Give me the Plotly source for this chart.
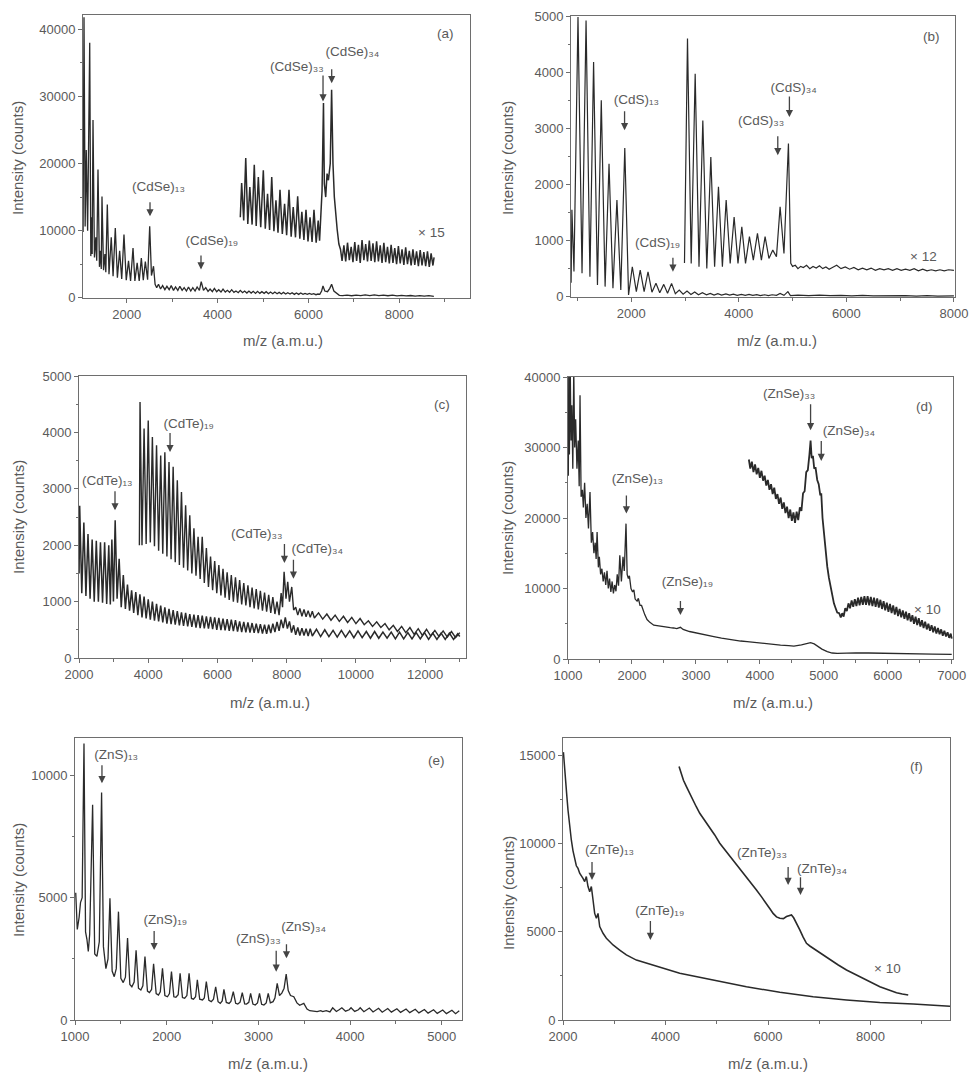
import plotly.graph_objects as go

W, H = 970, 1072

# ---------------- data ----------------
# (a) CdSe : main spectrum and x15 magnified part
A_MAIN = [
    (1040, 9800), (1060, 41800), (1085, 10600), (1110, 22000), (1140, 10000), (1186, 38000),
    (1210, 6200), (1232, 12000), (1240, 6500), (1258, 26500), (1290, 6000), (1320, 9000),
    (1340, 5500), (1368, 19100), (1400, 4600), (1425, 7000), (1440, 4300), (1456, 15100),
    (1490, 4100), (1520, 6500), (1540, 3800), (1573, 13900), (1610, 3500), (1660, 9000),
    (1700, 3200), (1749, 10400), (1795, 3000), (1845, 7000), (1890, 2800), (1940, 9400),
    (1990, 2600), (2040, 5500), (2085, 2500), (2139, 7400), (2180, 2500), (2230, 5200),
    (2275, 2500), (2322, 5900), (2365, 2600), (2410, 5400), (2460, 2700), (2506, 10650),
    (2545, 3300), (2590, 4700), (2625, 2000), (2660, 1500), (2700, 2000), (2745, 1300),
    (2790, 1800), (2840, 1200), (2885, 1700), (2935, 1200), (2980, 1800), (3030, 1100),
    (3075, 1600), (3125, 1100), (3170, 1700), (3220, 1100), (3265, 1500), (3315, 1000),
    (3360, 1600), (3410, 1000), (3455, 1500), (3505, 1000), (3550, 1600), (3600, 1100),
    (3640, 2400), (3690, 1100), (3740, 1500), (3790, 950), (3835, 1300), (3885, 900),
    (3930, 1400), (3980, 900), (4025, 1200), (4075, 850), (4120, 1300), (4170, 850),
    (4215, 1100), (4265, 800), (4310, 1200), (4360, 800), (4405, 1000), (4455, 750),
    (4500, 1100), (4550, 750), (4595, 1000), (4645, 700), (4690, 1000), (4740, 700),
    (4785, 950), (4835, 650), (4880, 950), (4930, 650), (4975, 900), (5025, 650),
    (5070, 900), (5120, 600), (5165, 850), (5215, 600), (5260, 850), (5310, 600),
    (5355, 800), (5405, 550), (5450, 800), (5500, 550), (5545, 750), (5595, 550),
    (5640, 750), (5690, 500), (5735, 700), (5785, 500), (5830, 700), (5880, 500),
    (5925, 650), (5975, 500), (6020, 650), (6070, 500), (6115, 600), (6165, 450),
    (6210, 550), (6250, 500), (6290, 1000), (6320, 1750), (6360, 1000), (6420, 900),
    (6470, 1400), (6510, 2000), (6560, 1000), (6620, 600), (6680, 350), (6750, 300),
    (6850, 380), (6950, 300), (7050, 400), (7150, 320), (7250, 420), (7350, 330),
    (7450, 420), (7550, 320), (7650, 400), (7750, 300), (7850, 380), (7950, 280),
    (8050, 350), (8150, 270), (8250, 330), (8350, 250), (8450, 320), (8550, 240),
    (8650, 300), (8760, 200),
]
A_X15 = [
    (4500, 12000), (4530, 17100), (4575, 11500), (4620, 20800), (4665, 11000), (4710, 16500),
    (4760, 10900), (4808, 19800), (4850, 10700), (4897, 18000), (4950, 10500), (5007, 19000),
    (5050, 10300), (5100, 15500), (5145, 10100), (5192, 18000), (5240, 9900), (5285, 14500),
    (5330, 9700), (5374, 16100), (5425, 9500), (5475, 14000), (5520, 9300), (5572, 16100),
    (5620, 9100), (5665, 13500), (5715, 9000), (5763, 15100), (5810, 8800), (5855, 12800),
    (5900, 8600), (5946, 13100), (5990, 8400), (6035, 12000), (6080, 8300), (6122, 13100),
    (6170, 8200), (6215, 11500), (6245, 8500), (6270, 13000), (6300, 16000), (6331, 29000),
    (6350, 17000), (6380, 15000), (6410, 18500), (6440, 17500), (6480, 20000), (6510, 31000),
    (6540, 20000), (6570, 15000), (6600, 12000), (6632, 10200), (6670, 8000), (6706, 7200),
    (6740, 5500), (6780, 7800), (6820, 5400), (6860, 8200), (6900, 5600), (6940, 7600),
    (6980, 5300), (7020, 8300), (7060, 5500), (7100, 7900), (7140, 5200), (7180, 8600),
    (7220, 5600), (7260, 8000), (7300, 5400), (7340, 8500), (7380, 5500), (7420, 8100),
    (7460, 5300), (7500, 8400), (7540, 5400), (7580, 7800), (7620, 5200), (7660, 8200),
    (7700, 5300), (7740, 7600), (7780, 5100), (7820, 7900), (7860, 5200), (7900, 7400),
    (7940, 5000), (7980, 7700), (8020, 5100), (8060, 7200), (8100, 4900), (8140, 7500),
    (8180, 5000), (8220, 7000), (8260, 4800), (8300, 7200), (8340, 4900), (8380, 6900),
    (8420, 4700), (8460, 7100), (8500, 4800), (8540, 6800), (8580, 4700), (8620, 6900),
    (8660, 4600), (8700, 6600), (8740, 4800), (8765, 6000),
]

# (b) CdS
B_MAIN = [
    (882, 250), (897, 1550), (935, 450), (1010, 4980), (1085, 420), (1160, 4920),
    (1232, 356), (1300, 4180), (1372, 210), (1443, 3500), (1514, 180), (1587, 2370),
    (1660, 150), (1734, 1720), (1806, 119), (1880, 2650), (1950, 30), (2020, 534),
    (2095, 90), (2167, 475), (2240, 90), (2312, 445), (2385, 80), (2460, 240),
    (2530, 70), (2605, 220), (2675, 60), (2750, 237), (2820, 55), (2893, 120),
    (2965, 45), (3037, 100), (3110, 40), (3180, 85), (3250, 35), (3323, 70),
    (3400, 35), (3470, 60), (3540, 30), (3610, 55), (3680, 30), (3760, 50),
    (3830, 28), (3900, 45), (3970, 25), (4050, 42), (4120, 25), (4190, 40),
    (4260, 25), (4335, 38), (4400, 20), (4480, 35), (4550, 20), (4620, 35),
    (4700, 25), (4768, 60), (4840, 25), (4913, 90), (4960, 20), (5100, 30),
    (5300, 20), (5500, 30), (5700, 20), (5900, 25), (6100, 15), (6300, 25),
    (6500, 15), (6700, 20), (6900, 15), (7100, 20), (7300, 10), (7500, 20),
    (7700, 10), (8000, 15),
]
B_X12 = [
    (2990, 600), (3046, 4600), (3115, 593), (3189, 3970), (3260, 534), (3331, 3140),
    (3405, 504), (3480, 2490), (3550, 534), (3622, 1960), (3695, 534), (3765, 1720),
    (3840, 593), (3913, 1420), (3985, 593), (4056, 1245), (4125, 593), (4198, 1070),
    (4270, 652), (4347, 1127), (4420, 652), (4489, 1070), (4560, 682), (4632, 830),
    (4700, 712), (4768, 1600), (4840, 771), (4923, 2730), (4966, 593), (5000, 540),
    (5050, 560), (5100, 500), (5150, 540), (5200, 520), (5260, 560), (5320, 500),
    (5380, 540), (5440, 510), (5500, 550), (5560, 500), (5620, 530), (5680, 490),
    (5740, 520), (5820, 560), (5900, 500), (5980, 530), (6060, 490), (6140, 520),
    (6220, 480), (6300, 510), (6380, 480), (6460, 510), (6540, 470), (6620, 500),
    (6700, 480), (6780, 500), (6860, 470), (6940, 500), (7020, 470), (7100, 490),
    (7180, 470), (7260, 500), (7340, 460), (7420, 490), (7500, 460), (7580, 480),
    (7660, 460), (7740, 480), (7820, 460), (7900, 480), (8000, 470),
]

# (c) CdTe : lower (main) and upper (magnified) traces
C_LOW = [
    (2003, 1500), (2020, 2700), (2080, 1150), (2140, 2400), (2200, 1100), (2260, 2200),
    (2320, 1050), (2380, 2100), (2440, 1000), (2500, 2080), (2560, 1000), (2620, 2050),
    (2680, 980), (2740, 2050), (2800, 960), (2860, 2000), (2905, 950), (2950, 2100),
    (2995, 1000), (3045, 2440), (3100, 1050), (3160, 1760), (3220, 900), (3280, 1470),
    (3340, 870), (3400, 1300), (3460, 840), (3520, 1200), (3580, 800), (3640, 1170),
    (3700, 760), (3760, 1130), (3820, 720), (3880, 1090), (3940, 700), (4000, 1040),
    (4060, 680), (4120, 1000), (4180, 660), (4240, 960), (4300, 650), (4360, 930),
    (4420, 630), (4480, 900), (4540, 610), (4600, 870), (4660, 600), (4720, 850),
    (4780, 590), (4840, 830), (4900, 580), (4960, 810), (5020, 570), (5080, 800),
    (5140, 560), (5200, 780), (5260, 550), (5320, 770), (5380, 540), (5440, 760),
    (5500, 530), (5560, 750), (5620, 525), (5680, 740), (5740, 520), (5800, 730),
    (5860, 510), (5920, 720), (5980, 500), (6040, 710), (6100, 495), (6160, 700),
    (6220, 490), (6280, 690), (6340, 480), (6400, 680), (6460, 475), (6520, 670),
    (6580, 470), (6640, 650), (6700, 460), (6760, 640), (6820, 455), (6880, 630),
    (6940, 450), (7000, 620), (7060, 445), (7120, 610), (7180, 440), (7240, 600),
    (7300, 435), (7360, 590), (7420, 430), (7480, 590), (7540, 440), (7600, 610),
    (7660, 460), (7720, 640), (7780, 480), (7840, 680), (7900, 530), (7960, 720),
    (8020, 520), (8080, 650), (8140, 450), (8200, 580), (8260, 410), (8320, 540),
    (8380, 400), (8440, 530), (8500, 400), (8560, 520), (8620, 390), (8680, 520),
    (8740, 390), (8860, 510), (8980, 380), (9100, 500), (9220, 380), (9340, 490),
    (9460, 370), (9580, 490), (9700, 370), (9820, 480), (9940, 360), (10060, 480),
    (10180, 360), (10300, 470), (10420, 350), (10540, 470), (10660, 350), (10780, 460),
    (10900, 350), (11020, 460), (11140, 340), (11260, 460), (11380, 340), (11500, 450),
    (11620, 340), (11740, 450), (11860, 340), (11980, 450), (12100, 330), (12220, 440),
    (12340, 330), (12460, 440), (12580, 330), (12700, 440), (12820, 330), (12940, 430),
    (13000, 380),
]
C_UP = [
    (3745, 2000), (3763, 4540), (3820, 2000), (3880, 4070), (3940, 2020), (4000, 4210),
    (4060, 2050), (4120, 3920), (4180, 1980), (4240, 3770), (4300, 1900), (4360, 3590),
    (4420, 1850), (4480, 3650), (4540, 1800), (4600, 3475), (4660, 1750), (4720, 3390),
    (4780, 1700), (4840, 3150), (4900, 1650), (4960, 2945), (5020, 1600), (5080, 2710),
    (5140, 1550), (5200, 2530), (5260, 1500), (5320, 2300), (5380, 1460), (5440, 2150),
    (5500, 1400), (5560, 2150), (5620, 1330), (5680, 1950), (5740, 1260), (5800, 1800),
    (5860, 1200), (5920, 1720), (5980, 1150), (6040, 1650), (6100, 1110), (6160, 1580),
    (6220, 1070), (6280, 1520), (6340, 1030), (6400, 1470), (6460, 1000), (6520, 1430),
    (6580, 980), (6640, 1380), (6700, 950), (6760, 1330), (6820, 930), (6880, 1290),
    (6940, 900), (7000, 1250), (7060, 880), (7120, 1220), (7180, 860), (7240, 1190),
    (7300, 840), (7360, 1160), (7420, 820), (7480, 1120), (7540, 800), (7600, 1080),
    (7660, 780), (7720, 1000), (7780, 760), (7840, 1150), (7880, 900), (7925, 1530),
    (7980, 1050), (8030, 1350), (8080, 1000), (8146, 1260), (8200, 850), (8260, 900),
    (8320, 760), (8380, 880), (8440, 740), (8500, 860), (8560, 730), (8620, 840),
    (8680, 720), (8740, 830), (8800, 710), (8920, 800), (9040, 690), (9160, 780),
    (9280, 670), (9400, 760), (9520, 650), (9640, 740), (9760, 630), (9880, 720),
    (10000, 610), (10120, 700), (10240, 590), (10360, 660), (10480, 560), (10600, 640),
    (10720, 540), (10840, 610), (10960, 500), (11080, 580), (11200, 470), (11320, 560),
    (11440, 450), (11560, 540), (11680, 420), (11800, 520), (11920, 400), (12040, 510),
    (12160, 390), (12280, 490), (12400, 380), (12520, 480), (12640, 370), (12760, 470),
    (12880, 360), (13000, 450),
]

# (d) ZnSe
D_MAIN = [
    (1005, 26000), (1012, 41000), (1022, 29000), (1035, 41000), (1048, 31000), (1060, 36000),
    (1075, 27000), (1090, 41000), (1105, 30000), (1120, 34000), (1140, 27000), (1160, 31000),
    (1175, 24500), (1188, 37400), (1205, 23000), (1225, 24000), (1240, 21500), (1260, 25000),
    (1280, 20000), (1300, 22000), (1320, 18500), (1344, 23700), (1365, 16500), (1385, 18000),
    (1405, 15000), (1425, 16500), (1440, 14200), (1455, 18000), (1475, 13000), (1490, 14500),
    (1510, 12000), (1530, 12800), (1550, 11000), (1570, 12300), (1590, 10500), (1610, 12500),
    (1630, 10000), (1650, 11400), (1670, 9500), (1690, 11000), (1710, 9300), (1730, 10500),
    (1750, 9600), (1770, 12000), (1790, 10400), (1810, 14700), (1835, 11000), (1860, 14500),
    (1880, 12500), (1907, 19200), (1925, 12000), (1944, 11400), (1960, 11800), (1985, 10000),
    (2010, 9500), (2030, 9800), (2050, 8500), (2080, 8200), (2100, 8600), (2126, 7600),
    (2150, 7600), (2178, 6800), (2200, 6300), (2236, 5600), (2280, 5200), (2341, 4800),
    (2400, 4700), (2450, 4650), (2500, 4550), (2549, 4500), (2600, 4450), (2650, 4400),
    (2700, 4300), (2758, 4500), (2800, 4200), (2900, 3900), (3019, 3640), (3150, 3400),
    (3280, 3160), (3400, 2950), (3550, 2700), (3700, 2550), (3802, 2460), (3950, 2300),
    (4100, 2150), (4323, 1980), (4450, 1900), (4532, 1840), (4650, 2000), (4741, 2220),
    (4793, 2310), (4850, 2150), (4897, 1840), (4970, 1400), (5054, 1040), (5130, 850),
    (5210, 800), (5367, 900), (5500, 880), (5700, 850), (5888, 800), (6100, 760),
    (6410, 700), (6700, 680), (7000, 660),
]
D_X10 = [
    (3828, 28300), (3850, 27000), (3875, 28000), (3900, 26500), (3925, 27600), (3950, 26200),
    (3975, 27100), (4000, 25700), (4025, 26700), (4050, 25300), (4075, 26000), (4100, 24600),
    (4125, 25400), (4150, 24000), (4175, 24800), (4200, 23400), (4225, 24300), (4250, 22700),
    (4275, 23400), (4300, 22000), (4325, 22900), (4350, 21300), (4375, 22200), (4400, 20700),
    (4425, 21600), (4450, 20000), (4475, 21200), (4500, 19600), (4525, 20800), (4550, 19300),
    (4575, 20900), (4600, 19700), (4625, 21500), (4650, 21000), (4675, 23500), (4700, 23800),
    (4725, 26500), (4750, 26800), (4775, 29000), (4793, 31000), (4810, 28500), (4830, 28800),
    (4850, 27000), (4870, 27200), (4897, 25400), (4920, 24800), (4945, 23200), (4960, 23500),
    (4980, 20000), (5001, 17800), (5025, 15200), (5054, 13100), (5080, 11500), (5106, 10200),
    (5130, 9000), (5158, 7900), (5185, 7200), (5210, 6600), (5240, 6500), (5265, 5900),
    (5288, 6500), (5310, 6000), (5335, 7200), (5360, 6800), (5385, 7900), (5410, 7200),
    (5435, 8300), (5460, 7400), (5485, 8500), (5510, 7500), (5535, 8700), (5560, 7600),
    (5585, 8800), (5610, 7700), (5635, 8900), (5660, 7700), (5685, 8900), (5710, 7600),
    (5735, 8800), (5760, 7500), (5785, 8700), (5810, 7400), (5835, 8600), (5860, 7300),
    (5885, 8400), (5910, 7100), (5935, 8200), (5960, 6900), (5985, 8000), (6010, 6700),
    (6035, 7800), (6060, 6500), (6085, 7600), (6110, 6300), (6135, 7400), (6160, 6100),
    (6185, 7100), (6210, 5900), (6235, 6900), (6260, 5700), (6285, 6700), (6310, 5500),
    (6335, 6500), (6360, 5300), (6385, 6200), (6410, 5000), (6435, 6000), (6460, 4800),
    (6485, 5800), (6510, 4600), (6535, 5500), (6560, 4400), (6585, 5300), (6610, 4200),
    (6635, 5000), (6660, 4000), (6685, 4800), (6710, 3800), (6735, 4600), (6760, 3600),
    (6785, 4400), (6810, 3500), (6835, 4200), (6860, 3300), (6885, 4000), (6910, 3200),
    (6935, 3800), (6960, 3000), (6985, 3600), (7000, 2900),
]

# (e) ZnS
E_MAIN = [
    (1008, 5200), (1025, 3700), (1045, 4200), (1060, 4800), (1078, 5000), (1098, 11300),
    (1115, 3600), (1130, 3300), (1145, 2800), (1160, 3500), (1192, 8800), (1215, 2700),
    (1239, 2600), (1265, 3200), (1290, 9300), (1310, 3000), (1337, 2100), (1360, 2500),
    (1381, 4980), (1405, 2000), (1428, 1770), (1450, 2100), (1474, 4430), (1500, 1700),
    (1526, 1530), (1550, 1750), (1573, 3350), (1598, 1450), (1620, 1360), (1645, 1550),
    (1666, 2850), (1692, 1300), (1718, 1230), (1740, 1400), (1763, 2590), (1790, 1180),
    (1812, 1120), (1835, 1250), (1857, 2300), (1885, 1080), (1910, 1020), (1930, 1150),
    (1954, 2110), (1980, 1000), (2008, 950), (2030, 1080), (2052, 1980), (2078, 950),
    (2100, 930), (2125, 1030), (2146, 1910), (2172, 920), (2196, 890), (2220, 1000),
    (2244, 1910), (2270, 880), (2292, 850), (2315, 950), (2334, 1640), (2360, 850),
    (2390, 820), (2410, 900), (2432, 1570), (2460, 800), (2486, 750), (2510, 850),
    (2534, 1360), (2560, 750), (2584, 680), (2605, 780), (2624, 1250), (2650, 720),
    (2680, 680), (2700, 760), (2726, 1160), (2752, 680), (2775, 650), (2800, 730),
    (2824, 1120), (2850, 660), (2870, 650), (2895, 720), (2915, 1090), (2940, 650),
    (2965, 610), (2990, 700), (3012, 1090), (3035, 640), (3060, 610), (3085, 700),
    (3107, 1090), (3130, 700), (3160, 750), (3180, 900), (3205, 1500), (3230, 1000),
    (3255, 1100), (3280, 1300), (3303, 1880), (3325, 1200), (3350, 1000), (3386, 950),
    (3420, 700), (3450, 600), (3495, 680), (3530, 450), (3560, 380), (3600, 350),
    (3640, 340), (3680, 380), (3700, 340), (3740, 380), (3780, 330), (3810, 500),
    (3850, 350), (3880, 420), (3910, 500), (3950, 360), (3990, 420), (4010, 500),
    (4050, 350), (4090, 420), (4110, 500), (4150, 340), (4190, 420), (4210, 490),
    (4250, 330), (4290, 420), (4310, 480), (4350, 320), (4390, 400), (4410, 470),
    (4450, 320), (4490, 400), (4510, 460), (4550, 310), (4590, 390), (4610, 450),
    (4650, 300), (4690, 380), (4710, 440), (4750, 290), (4790, 380), (4810, 430),
    (4850, 280), (4890, 360), (4910, 420), (4950, 270), (4990, 350), (5010, 410),
    (5050, 260), (5090, 340), (5110, 400), (5150, 260), (5190, 380),
]

# (f) ZnTe
F_MAIN = [
    (2008, 15200), (2030, 14200), (2052, 13600), (2075, 12700), (2098, 11900), (2130, 11000),
    (2163, 10200), (2195, 9600), (2228, 9080), (2260, 8750), (2293, 8600), (2325, 8330),
    (2390, 8040), (2423, 7850), (2455, 8140), (2488, 7570), (2521, 7280), (2553, 7570),
    (2586, 6810), (2618, 6050), (2651, 5770), (2683, 6050), (2716, 5300), (2781, 4920),
    (2846, 4640), (2976, 4260), (3106, 3970), (3236, 3690), (3432, 3400), (3627, 3220),
    (3952, 2930), (4277, 2650), (4928, 2270), (5579, 1890), (6230, 1570), (6880, 1320),
    (7531, 1140), (8182, 1000), (8832, 910), (9483, 790), (9550, 780),
]
F_X10 = [
    (4264, 14380), (4300, 14000), (4350, 13600), (4408, 13240), (4470, 12850), (4538, 12490),
    (4600, 12100), (4668, 11730), (4760, 11350), (4863, 10970), (4960, 10500), (5058, 10030),
    (5190, 9550), (5319, 9080), (5450, 8600), (5579, 8140), (5680, 7750), (5774, 7380),
    (5870, 7000), (5969, 6620), (6040, 6300), (6099, 6050), (6165, 5850), (6230, 5770),
    (6300, 5750), (6360, 5870), (6420, 5900), (6457, 5960), (6500, 5800), (6522, 5680),
    (6570, 5400), (6620, 5110), (6685, 4700), (6750, 4350), (6815, 4200), (6880, 4070),
    (7040, 3750), (7206, 3410), (7370, 3120), (7531, 2840), (7690, 2600), (7856, 2370),
    (8020, 2120), (8182, 1890), (8345, 1720), (8507, 1550), (8620, 1480), (8735, 1420),
]

# cluster labels: (formula, n, label_center_x, label_center_y, arrow_tip_x, arrow_tip_y, arrow_len_px)
A_LABELS = [("CdSe", 13, 2638, 16600, 2513, 12130, 13),
            ("CdSe", 19, 3818, 8570, 3635, 4210, 13),
            ("CdSe", 33, 5777, 34440, 6321, 29240, 25),
            ("CdSe", 34, 6915, 36670, 6512, 31970, 13)]
B_LABELS = [("CdS", 13, 2043, 3510, 1876, 2965, 18),
            ("CdS", 19, 2539, 960, 2775, 445, 13),
            ("CdS", 33, 4458, 3144, 4725, 2520, 18),
            ("CdS", 34, 4985, 3725, 4941, 3200, 20)]
C_LABELS = [("CdTe", 13, 2896, 3150, 3040, 2618, 18),
            ("CdTe", 19, 5064, 4155, 4630, 3652, 18),
            ("CdTe", 33, 7212, 2204, 7935, 1684, 18),
            ("CdTe", 34, 8821, 1938, 8195, 1407, 18)]
D_LABELS = [("ZnSe", 13, 2054, 25600, 1913, 20640, 17),
            ("ZnSe", 19, 2836, 10960, 2758, 6230, 13),
            ("ZnSe", 33, 4480, 37640, 4793, 32450, 25),
            ("ZnSe", 34, 5367, 32450, 4960, 28100, 19)]
E_LABELS = [("ZnS", 13, 1428, 10840, 1294, 9680, 17),
            ("ZnS", 19, 1954, 4090, 1863, 2860, 18),
            ("ZnS", 33, 3023, 3340, 3194, 1976, 20),
            ("ZnS", 34, 3477, 3820, 3306, 2520, 13)]
F_LABELS = [("ZnTe", 13, 2846, 9690, 2566, 7950, 17),
            ("ZnTe", 19, 3822, 6206, 3705, 4540, 18),
            ("ZnTe", 33, 5937, 9500, 6392, 7660, 17),
            ("ZnTe", 34, 7010, 8610, 6633, 7095, 18)]

# plain texts: (text, x, y)
A_TEXT = [("× 15", 8713, 9750), ("(a)", 9006, 39300)]
B_TEXT = [("× 12", 7431, 712), ("(b)", 7587, 4643)]
C_TEXT = [("(c)", 12482, 4497)]
D_TEXT = [("× 10", 6619, 7040), ("(d)", 6567, 35750)]
E_TEXT = [("(e)", 4945, 10630)]
F_TEXT = [("× 10", 8325, 2930), ("(f)", 8897, 14380)]

PANELS = [
    dict(px=(83, 470), py=(15, 298), xr=(1038, 9556), yr=(-40, 42130),
         xt=[2000, 4000, 6000, 8000], xm=[3000, 5000, 7000, 9000],
         yt=[0, 10000, 20000, 30000, 40000], ym=[5000, 15000, 25000, 35000],
         traces=[(A_MAIN, 1.3), (A_X15, 1.5)], labels=A_LABELS, texts=A_TEXT,
         ytitle_y=158, xtitle=(283, 340)),
    dict(px=(571, 955), py=(16, 297), xr=(880, 8020), yr=(-5, 5000),
         xt=[2000, 4000, 6000, 8000], xm=[1000, 3000, 5000, 7000],
         yt=[0, 1000, 2000, 3000, 4000, 5000], ym=[500, 1500, 2500, 3500, 4500],
         traces=[(B_MAIN, 1.2), (B_X12, 1.2)], labels=B_LABELS, texts=B_TEXT,
         ytitle_y=158, xtitle=(777, 340)),
    dict(px=(79, 466), py=(376, 658), xr=(2000, 13180), yr=(0, 5000),
         xt=[2000, 4000, 6000, 8000, 10000, 12000], xm=[3000, 5000, 7000, 9000, 11000, 13000],
         yt=[0, 1000, 2000, 3000, 4000, 5000], ym=[500, 1500, 2500, 3500, 4500],
         traces=[(C_LOW, 1.5), (C_UP, 1.4)], labels=C_LABELS, texts=C_TEXT,
         ytitle_y=517, xtitle=(270, 702)),
    dict(px=(568, 953), py=(377, 659), xr=(1000, 7020), yr=(0, 40000),
         xt=[1000, 2000, 3000, 4000, 5000, 6000, 7000], xm=[1500, 2500, 3500, 4500, 5500, 6500],
         yt=[0, 10000, 20000, 30000, 40000], ym=[5000, 15000, 25000, 35000],
         traces=[(D_MAIN, 1.3), (D_X10, 1.8)], labels=D_LABELS, texts=D_TEXT,
         ytitle_y=518, xtitle=(773, 702)),
    dict(px=(75, 462), py=(738, 1020), xr=(1000, 5220), yr=(0, 11530),
         xt=[1000, 2000, 3000, 4000, 5000], xm=[1500, 2500, 3500, 4500],
         yt=[0, 5000, 10000], ym=[2500, 7500],
         traces=[(E_MAIN, 1.3)], labels=E_LABELS, texts=E_TEXT,
         ytitle_y=880, xtitle=(268, 1063)),
    dict(px=(563, 950), py=(738, 1020), xr=(2000, 9550), yr=(0, 16000),
         xt=[2000, 4000, 6000, 8000], xm=[3000, 5000, 7000, 9000],
         yt=[0, 5000, 10000, 15000], ym=[2500, 7500, 12500],
         traces=[(F_MAIN, 1.5), (F_X10, 1.6)], labels=F_LABELS, texts=F_TEXT,
         ytitle_y=893, xtitle=(768, 1063)),
]

FONT = "Liberation Sans, Arial, Helvetica, DejaVu Sans, sans-serif"
LINE = "#2a2a2a"
TXT = "#5a5a5a"
AX = "#6e6e6e"
LBL = 13.5

SUBDIGITS = str.maketrans("0123456789", "₀₁₂₃₄₅₆₇₈₉")
# approximate glyph advance widths (em), for sizing the label boxes
GLYPH = {"(": 0.333, ")": 0.333, "C": 0.722, "d": 0.556, "S": 0.667, "e": 0.556,
         "Z": 0.611, "n": 0.556, "T": 0.611}


def label_text(formula, n):
    return "(" + formula + ")" + str(n).translate(SUBDIGITS)


def label_width(formula, n, size):
    main = sum(GLYPH[c] for c in "(" + formula + ")") * size
    sub = len(str(n)) * 0.40 * size
    return main + sub


fig = go.Figure()
layout = dict(width=W, height=H, margin=dict(l=0, r=0, t=0, b=0),
              paper_bgcolor="white", plot_bgcolor="white", showlegend=False,
              template="none", font=dict(family=FONT, color=TXT))
annotations = []

for i, p in enumerate(PANELS):
    n = i + 1
    xk = "xaxis" if n == 1 else f"xaxis{n}"
    yk = "yaxis" if n == 1 else f"yaxis{n}"
    xref = "x" if n == 1 else f"x{n}"
    yref = "y" if n == 1 else f"y{n}"
    sx = (p["px"][1] - p["px"][0]) / (p["xr"][1] - p["xr"][0])
    sy = (p["py"][1] - p["py"][0]) / (p["yr"][1] - p["yr"][0])
    common = dict(showline=True, mirror=True, linecolor=AX, linewidth=1,
                  ticks="outside", ticklen=4, tickwidth=1, tickcolor=AX,
                  tickformat="d", tickfont=dict(size=13, color=TXT, family=FONT),
                  showgrid=False, zeroline=False, automargin=False, fixedrange=True)
    layout[xk] = dict(common, domain=[p["px"][0] / W, p["px"][1] / W], range=list(p["xr"]),
                      anchor=yref, tickmode="array", tickvals=p["xt"],
                      minor=dict(tickvals=p["xm"], ticks="outside", ticklen=2.5,
                                 tickcolor=AX, showgrid=False))
    layout[yk] = dict(common, domain=[1 - p["py"][1] / H, 1 - p["py"][0] / H], range=list(p["yr"]),
                      anchor=xref, tickmode="array", tickvals=p["yt"],
                      minor=dict(tickvals=p["ym"], ticks="outside", ticklen=2.5,
                                 tickcolor=AX, showgrid=False))
    for tr, lw in p["traces"]:
        fig.add_trace(go.Scatter(x=[q[0] for q in tr], y=[q[1] for q in tr], mode="lines",
                                 line=dict(color=LINE, width=lw), xaxis=xref, yaxis=yref,
                                 hoverinfo="skip"))
    for (formula, k, tx, ty, hx, hy, L) in p["labels"]:
        dx = (tx - hx) * sx          # label centre offset from arrow tip, px (right +)
        dy = (ty - hy) * sy          # label centre offset from arrow tip, px (up +)
        tw = label_width(formula, k, LBL)
        half_h = 10.0
        gap = max(0.0, dy - half_h - L)
        annotations.append(dict(
            x=hx, y=hy, xref=xref, yref=yref,
            text=label_text(formula, k),
            font=dict(size=LBL, color=TXT, family=FONT),
            showarrow=True, ax=0, ay=-dy, xanchor="center", yanchor="middle",
            width=tw + 2 * abs(dx) + 4, align="right" if dx > 0 else "left",
            arrowhead=2, arrowsize=1.1, arrowwidth=1.3, arrowcolor="#444",
            standoff=0, startstandoff=gap))
    for (t, tx, ty) in p["texts"]:
        annotations.append(dict(x=tx, y=ty, xref=xref, yref=yref, text=t, showarrow=False,
                                font=dict(size=LBL, color=TXT, family=FONT),
                                xanchor="center", yanchor="middle"))
    # axis titles
    ytx = 18 if p["px"][0] < 300 else 508
    annotations.append(dict(x=ytx / W, y=1 - p["ytitle_y"] / H, xref="paper", yref="paper",
                            text="Intensity (counts)", textangle=-90, showarrow=False,
                            font=dict(size=15, color=TXT, family=FONT),
                            xanchor="center", yanchor="middle"))
    annotations.append(dict(x=p["xtitle"][0] / W, y=1 - p["xtitle"][1] / H, xref="paper",
                            yref="paper", text="m/z (a.m.u.)", showarrow=False,
                            font=dict(size=15, color=TXT, family=FONT),
                            xanchor="center", yanchor="middle"))

layout["annotations"] = annotations
fig.update_layout(**layout)
fig.write_html("out.html")
